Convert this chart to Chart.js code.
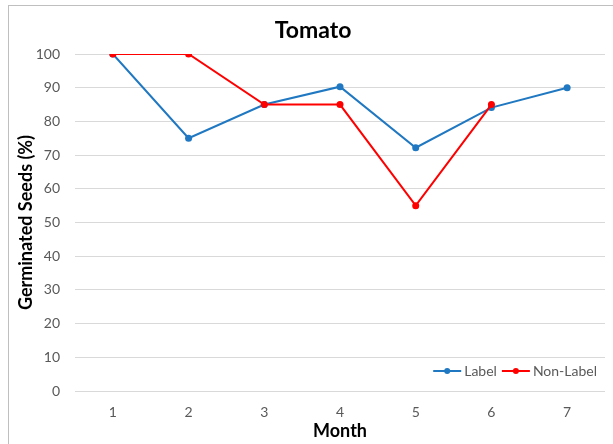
<!DOCTYPE html>
<html>
<head>
<meta charset="utf-8">
<script src="https://cdn.jsdelivr.net/npm/chart.js@4"></script>
<style>
  html, body { margin: 0; padding: 0; background: #fff; }
  #wrap { width: 613px; height: 444px; }
</style>
</head>
<body>
<div id="wrap"><canvas id="myChart" width="613" height="444"></canvas></div>
<script>
// Chart data
const months = ['1', '2', '3', '4', '5', '6', '7'];
const labelValues = [100, 75, 85, 90.3, 72.2, 84.1, 90];
const nonLabelValues = [100, 100, 85, 85, 55, 85, null];
const yTicks = [0, 10, 20, 30, 40, 50, 60, 70, 80, 90, 100];

const FONT = 'Lato, "Liberation Sans", sans-serif';

// grey frame round the whole chart
const framePlugin = {
    id: 'frame',
    beforeDraw(chart) {
        const c = chart.ctx;
        c.save();
        c.fillStyle = '#fff';
        c.fillRect(0, 0, chart.width, chart.height);
        c.strokeStyle = '#bfbfbf';
        c.lineWidth = 1;
        c.strokeRect(8.5, 5.5, chart.width + 10, chart.height + 10);
        c.restore();
    }
};

// legend drawn inside the plot, bottom right
const insideLegend = {
    id: 'insideLegend',
    afterDraw(chart) {
        const c = chart.ctx;
        const sets = chart.data.datasets;
        c.save();
        c.font = '14px ' + FONT;
        c.textBaseline = 'middle';
        const y = 371;
        const lineLen = 28;
        let widths = sets.map(d => lineLen + 4 + c.measureText(d.label).width + 4);
        let x = 598 - widths.reduce((a, b) => a + b, 0) + 4;
        sets.forEach((d, i) => {
            c.strokeStyle = d.borderColor;
            c.lineWidth = 2;
            c.beginPath();
            c.moveTo(x, y);
            c.lineTo(x + lineLen, y);
            c.stroke();
            c.fillStyle = d.borderColor;
            c.beginPath();
            c.arc(x + lineLen / 2, y, 3, 0, Math.PI * 2);
            c.fill();
            c.fillStyle = '#595959';
            c.textAlign = 'left';
            c.fillText(d.label, x + lineLen + 3, y);
            x += widths[i];
        });
        c.restore();
    }
};

const ctx = document.getElementById('myChart').getContext('2d');
const myChart = new Chart(ctx, {
    type: 'line',
    data: {
        labels: months,
        datasets: [{
            label: 'Label',
            data: labelValues,
            order: 2,
            borderColor: '#1f78c1',
            backgroundColor: '#1f78c1',
            borderWidth: 2,
            pointRadius: 3.5,
            pointBorderWidth: 0,
            pointBackgroundColor: '#1f78c1',
            tension: 0
        }, {
            label: 'Non-Label',
            data: nonLabelValues,
            order: 1,
            borderColor: '#ff0000',
            backgroundColor: '#ff0000',
            borderWidth: 2,
            pointRadius: 3.5,
            pointBorderWidth: 0,
            pointBackgroundColor: '#ff0000',
            tension: 0
        }]
    },
    options: {
        responsive: false,
        animation: false,
        devicePixelRatio: 1,
        layout: { padding: { left: 21, right: 8, top: 0, bottom: 0 } },
        plugins: {
            legend: { display: false },
            tooltip: { enabled: false },
            title: {
                display: true,
                text: 'Tomato',
                color: '#000',
                font: { family: FONT, size: 23, weight: 'bold', lineHeight: 1.2 },
                padding: { top: 17, bottom: 9.4 }
            }
        },
        scales: {
            x: {
                offset: true,
                grid: { display: false, drawTicks: false },
                border: { display: false },
                ticks: { color: '#595959', padding: 13, font: { family: FONT, size: 14 } },
                title: {
                    display: true,
                    text: 'Month',
                    color: '#000',
                    font: { family: FONT, size: 18, weight: 'bold', lineHeight: 1.2 },
                    padding: { top: 0, bottom: 2 }
                },
                afterFit(s) { s.height = 53; }
            },
            y: {
                min: 0,
                max: 100,
                afterBuildTicks(s) { s.ticks = yTicks.map(v => ({ value: v })); },
                grid: { color: '#d9d9d9', lineWidth: 1, drawTicks: false },
                border: { display: false },
                ticks: { color: '#595959', padding: 15, font: { family: FONT, size: 14 } },
                title: {
                    display: true,
                    text: 'Germinated Seeds (%)',
                    color: '#000',
                    font: { family: FONT, size: 18, weight: 'bold', lineHeight: 1.2 },
                    padding: { top: -6, bottom: 0 }
                },
                afterFit(s) { s.width = 54; }
            }
        }
    },
    plugins: [framePlugin, insideLegend]
});
</script>
</body>
</html>
